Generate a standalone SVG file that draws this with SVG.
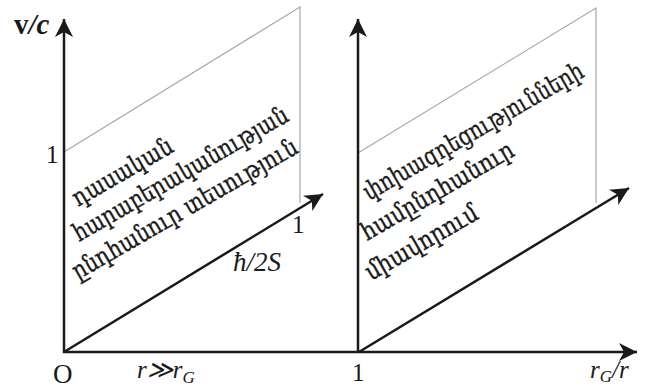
<svg xmlns="http://www.w3.org/2000/svg" width="646" height="388" viewBox="0 0 646 388">
<style>
.axis{stroke:#1a1a1a;stroke-width:2.5;fill:none}
.thin{stroke:#a8a8a8;stroke-width:1.2;fill:none}
.lbl{font-family:"Liberation Serif","DejaVu Serif",serif;font-size:25px;fill:#1a1a1a}
.it{font-style:italic}
.sub{font-size:17px}
.arm{font-family:"DejaVu Serif","Noto Sans",serif;font-size:25px;fill:#1a1a1a;stroke:#1a1a1a;stroke-width:0.4}
</style>
<defs>
<marker id="ah" markerUnits="userSpaceOnUse" markerWidth="20" markerHeight="18" refX="18" refY="9" orient="auto">
<path d="M0,0 L18,9 L0,18 L5,9 Z" fill="#1a1a1a"/>
</marker>
</defs>
<rect width="646" height="388" fill="#fff"/>
<g id="connectors">
<path class="thin" d="M64,152 L300,7 L300,203"/>
<path class="thin" d="M358,153 L596,8 L596,203"/>
<line class="axis" x1="64" y1="353" x2="64" y2="19" marker-end="url(#ah)"/>
<line class="axis" x1="358" y1="353" x2="358" y2="19" marker-end="url(#ah)"/>
<line class="axis" x1="63" y1="352" x2="637" y2="352" marker-end="url(#ah)"/>
<line class="axis" x1="64" y1="352" x2="323" y2="194" marker-end="url(#ah)"/>
<line class="axis" x1="359" y1="352" x2="629" y2="188" marker-end="url(#ah)"/>
</g>
<g id="labels">
<text class="lbl" x="14" y="34" style="font-size:29px"><tspan font-weight="bold">v</tspan><tspan class="it" font-weight="bold">/c</tspan></text>
<text class="lbl" x="46" y="163">1</text>
<text class="lbl" x="53" y="383" style="font-size:27px">O</text>
<text class="lbl it" x="137" y="378">r≫r<tspan class="sub" dy="5">G</tspan></text>
<text class="lbl it" x="233" y="271" style="font-size:27px">ħ/2S</text>
<text class="lbl" x="292" y="233">1</text>
<text class="lbl" x="352" y="381">1</text>
<text class="lbl it" x="590" y="378">r<tspan class="sub" dy="4">G</tspan><tspan dy="-4">/r</tspan></text>
</g>
<g id="node-left">
<text class="arm" transform="translate(78,207) rotate(-30)" textLength="112" lengthAdjust="spacingAndGlyphs">դասական</text>
<text class="arm" transform="translate(79,242) rotate(-30)" textLength="244" lengthAdjust="spacingAndGlyphs">հարաբերականության</text>
<text class="arm" transform="translate(78,280) rotate(-30)" textLength="256" lengthAdjust="spacingAndGlyphs">ընդհանուր տեսություն</text>
</g>
<g id="node-right">
<text class="arm" transform="translate(369,201) rotate(-30)" textLength="250" lengthAdjust="spacingAndGlyphs">փոխազդեցությունների</text>
<text class="arm" transform="translate(367,241) rotate(-30)" textLength="172" lengthAdjust="spacingAndGlyphs">համընդհանուր</text>
<text class="arm" transform="translate(371,281) rotate(-30)" textLength="126" lengthAdjust="spacingAndGlyphs">միավորում</text>
</g>
</svg>
